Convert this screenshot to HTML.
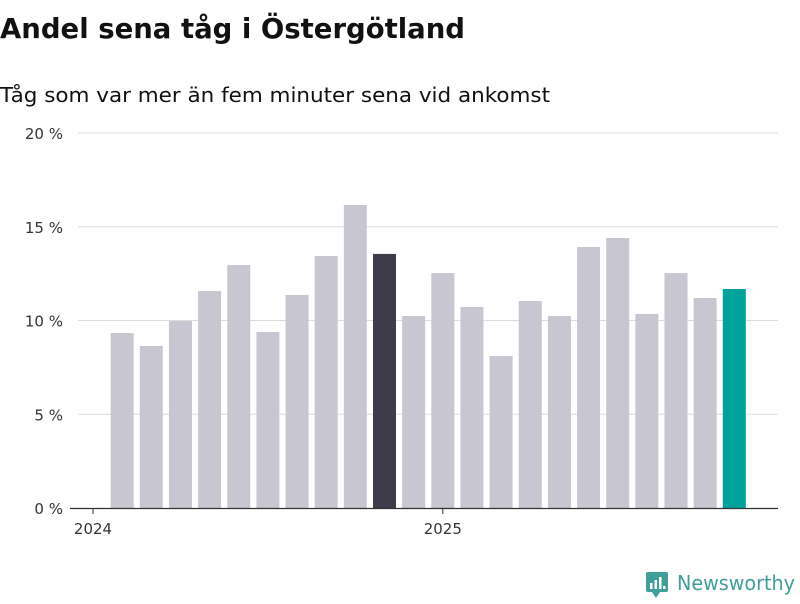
<!DOCTYPE html>
<html><head><meta charset="utf-8"><style>
body{margin:0;width:800px;height:600px;background:#fff;font-family:"DejaVu Sans","Liberation Sans",sans-serif;overflow:hidden}
</style></head><body>
<svg width="800" height="600" id="c">
<text x="0" y="38" font-size="28" font-weight="bold" fill="#111" textLength="465" lengthAdjust="spacingAndGlyphs">Andel sena tåg i Östergötland</text>
<text x="0" y="102" font-size="20" fill="#111" textLength="550" lengthAdjust="spacingAndGlyphs">Tåg som var mer än fem minuter sena vid ankomst</text>
<g id="grid"></g><g id="bars"></g><g id="xt"></g>
<g>
<rect x="646" y="572" width="22" height="20" rx="2" fill="#3f9e98"/>
<polygon points="652,592 656,598 660,592" fill="#3f9e98"/>
<rect x="650" y="583" width="2.5" height="6" fill="#fff"/><rect x="654.5" y="580" width="2.5" height="9" fill="#fff"/><rect x="659" y="577" width="2.5" height="12" fill="#fff"/><rect x="663" y="586" width="2.5" height="3" fill="#fff"/>
<text x="677" y="590" font-size="20" fill="#3f9e98" textLength="118" lengthAdjust="spacingAndGlyphs">Newsworthy</text>
</g>
</svg>
<script>
const values=[9.33,8.64,9.97,11.57,12.96,9.39,11.36,13.44,16.16,13.55,10.24,12.53,10.72,8.11,11.04,10.24,13.92,14.4,10.35,12.53,11.2,11.68];
const yTicks=[0,5,10,15,20];
const yTickLabels=["0 %","5 %","10 %","15 %","20 %"];
const xTickLabels=["2024","2025"];
const xTickMonth=[0,12];
const highlightDark=9, highlightTeal=21;
const ns="http://www.w3.org/2000/svg";
const y=v=>508-v*18.75;
const x=m=>93+m*29.15;
function mk(t,a,p){const e=document.createElementNS(ns,t);for(const k in a)e.setAttribute(k,a[k]);p.appendChild(e);return e;}
const g=document.getElementById('grid');
yTicks.forEach((t,i)=>{
 if(t>0){const l=mk('line',{x1:78,x2:778,y1:y(t),y2:y(t),stroke:'#dcdcdc','stroke-width':1},g);
 
 }
 const tx=mk('text',{x:63,y:y(t)+6,'text-anchor':'end','font-size':15,fill:'#333'},g);
 tx.textContent=yTickLabels[i];
 
 
});
const b=document.getElementById('bars');
values.forEach((v,i)=>{
 const c=x(i+1);
 const r=mk('rect',{x:c-11.5,y:y(v),width:23,height:y(0)-y(v),fill:i===highlightDark?'#3e3c4b':i===highlightTeal?'#00a39a':'#c8c6d0'},b);
 
 
});
const xt=document.getElementById('xt');
const ax=mk('line',{x1:70,x2:778,y1:508.5,y2:508.5,stroke:'#333','stroke-width':1.3},xt);


xTickLabels.forEach((s,i)=>{
 const px=x(xTickMonth[i]);
 mk('line',{x1:px,x2:px,y1:508,y2:514,stroke:'#333'},xt);
 const t=mk('text',{x:px,y:534,'text-anchor':'middle','font-size':15,fill:'#333'},xt);
 t.textContent=s;
 
 
});
</script>
</body></html>
